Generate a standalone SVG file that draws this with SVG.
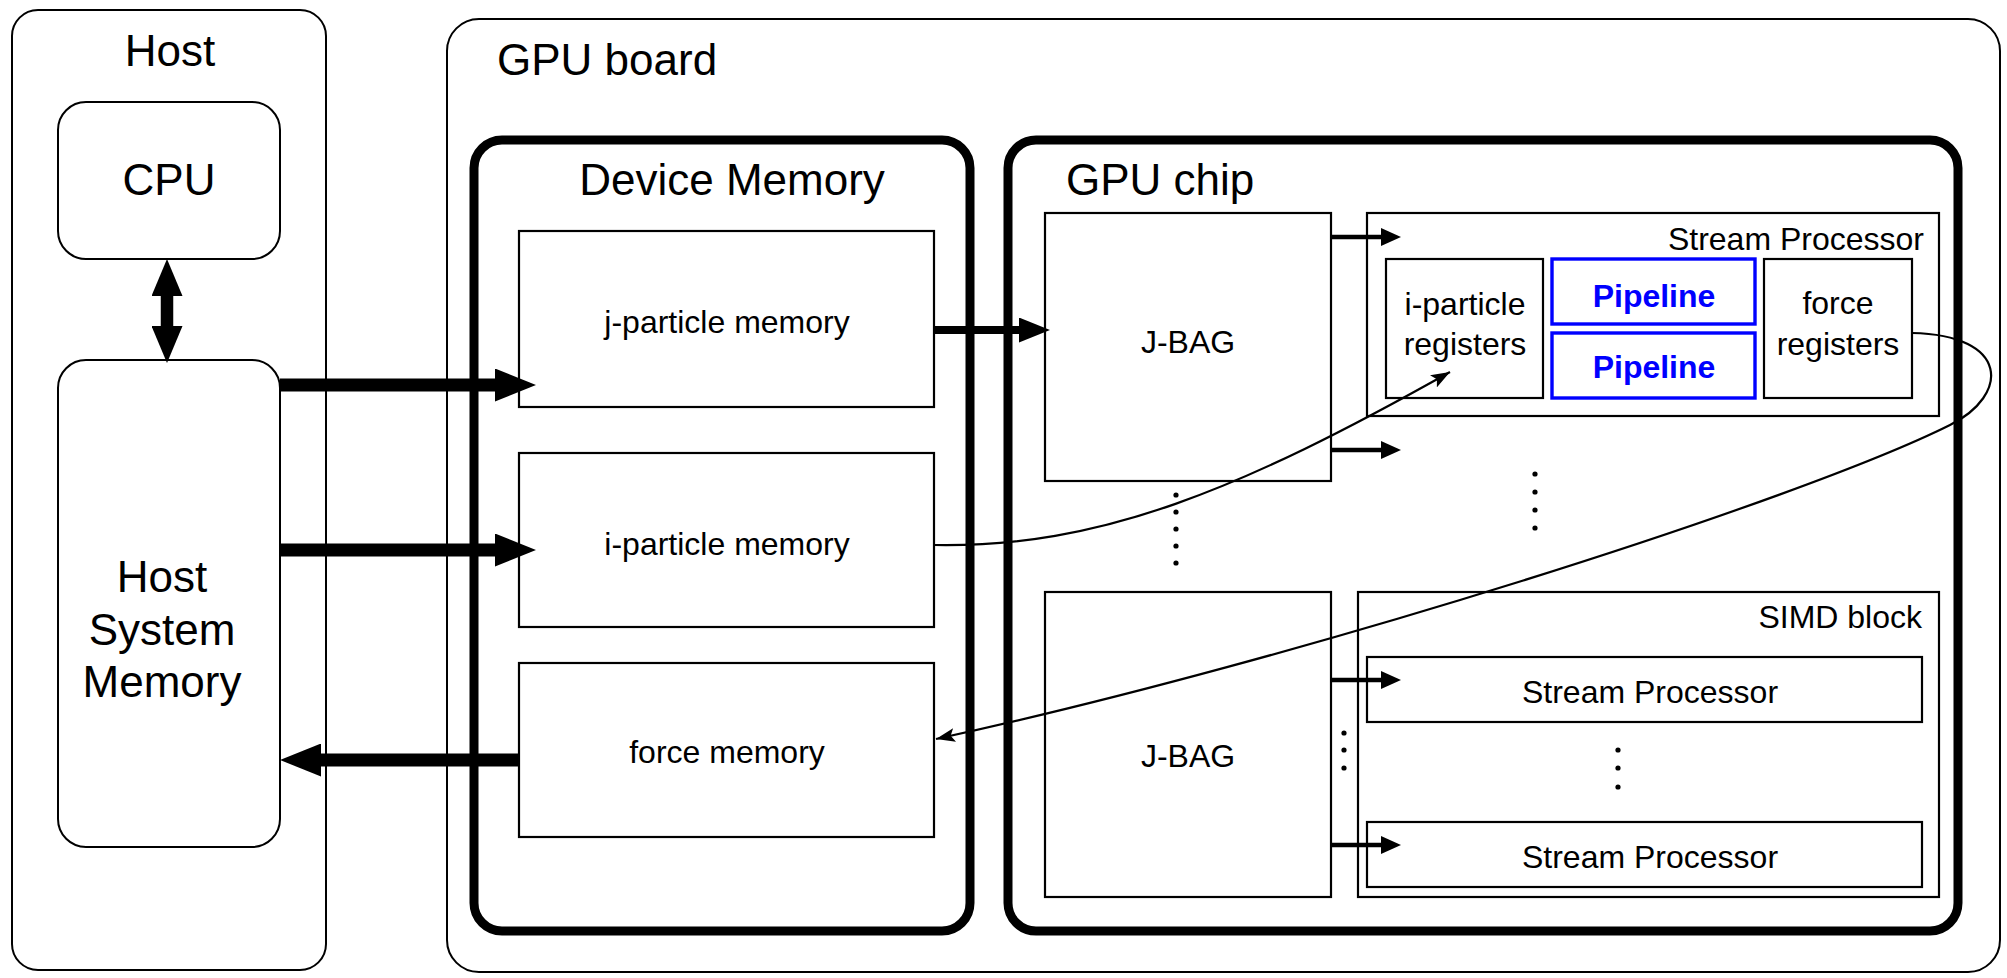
<svg xmlns="http://www.w3.org/2000/svg" width="2007" height="978" viewBox="0 0 2007 978">
  <defs>
    <style>
      text { font-family: "Liberation Sans", Arial, Helvetica, sans-serif; fill: #000; }
      .title { font-size: 44px; }
      .lbl { font-size: 32px; }
      .mid { text-anchor: middle; }
      .end { text-anchor: end; }
      .frame { fill: none; stroke: #000; stroke-width: 2; }
      .heavy { fill: none; stroke: #000; stroke-width: 9; }
      .box { fill: none; stroke: #000; stroke-width: 2.2; }
      .pipe { fill: none; stroke: #0000ff; stroke-width: 3.4; }
      .pipetxt { font-size: 32px; font-weight: bold; fill: #0000ff; }
      .dot { fill: #000; }
      .bus { fill: none; stroke: #000; }
      .wire { fill: none; stroke: #000; stroke-width: 2.2; }
    </style>
    <marker id="headBig" markerUnits="userSpaceOnUse" markerWidth="41" markerHeight="33" refX="0" refY="16.5" orient="auto">
      <path d="M0,0 L41,16.5 L0,33 z" fill="#000"/>
    </marker>
    <marker id="headCpu" markerUnits="userSpaceOnUse" markerWidth="37" markerHeight="31" refX="0" refY="15.5" orient="auto-start-reverse">
      <path d="M0,0 L37,15.5 L0,31 z" fill="#000"/>
    </marker>
    <marker id="headMid" markerUnits="userSpaceOnUse" markerWidth="31" markerHeight="25" refX="0" refY="12.5" orient="auto">
      <path d="M0,0 L31,12.5 L0,25 z" fill="#000"/>
    </marker>
    <marker id="headSmall" markerUnits="userSpaceOnUse" markerWidth="20" markerHeight="18" refX="0" refY="9" orient="auto">
      <path d="M0,0 L20,9 L0,18 z" fill="#000"/>
    </marker>
    <marker id="headThin" markerUnits="userSpaceOnUse" markerWidth="20" markerHeight="14" refX="19" refY="7" orient="auto">
      <path d="M0,0 L19,7 L0,14 L4,7 z" fill="#000"/>
    </marker>
  </defs>

  <!-- Host side -->
  <g id="host">
    <rect class="frame" x="12" y="10" width="314" height="960" rx="26"/>
    <text class="title mid" x="170" y="66">Host</text>
  </g>
  <g id="cpu">
    <rect class="frame" x="58" y="102" width="222" height="157" rx="28"/>
    <text class="title mid" x="169" y="195">CPU</text>
  </g>
  <g id="host-memory">
    <rect class="frame" x="58" y="360" width="222" height="487" rx="28"/>
    <text class="title mid" x="162" y="592">Host</text>
    <text class="title mid" x="162" y="645">System</text>
    <text class="title mid" x="162" y="697">Memory</text>
  </g>

  <!-- GPU board -->
  <g id="gpu-board">
    <rect class="frame" x="447" y="19" width="1553" height="953" rx="32"/>
    <text class="title" x="497" y="75">GPU board</text>
  </g>

  <g id="device-memory">
    <rect class="heavy" x="474" y="140" width="496" height="791" rx="28"/>
    <text class="title mid" x="732" y="195">Device Memory</text>
  </g>
  <g id="j-particle-memory">
    <rect class="box" x="519" y="231" width="415" height="176"/>
    <text class="lbl mid" x="727" y="333">j-particle memory</text>
  </g>
  <g id="i-particle-memory">
    <rect class="box" x="519" y="453" width="415" height="174"/>
    <text class="lbl mid" x="727" y="555">i-particle memory</text>
  </g>
  <g id="force-memory">
    <rect class="box" x="519" y="663" width="415" height="174"/>
    <text class="lbl mid" x="727" y="763">force memory</text>
  </g>

  <g id="gpu-chip">
    <rect class="heavy" x="1008" y="140" width="950" height="791" rx="28"/>
    <text class="title" x="1066" y="195">GPU chip</text>
  </g>
  <g id="jbag-1">
    <rect class="box" x="1045" y="213" width="286" height="268"/>
    <text class="lbl mid" x="1188" y="353">J-BAG</text>
  </g>
  <g id="jbag-n">
    <rect class="box" x="1045" y="592" width="286" height="305"/>
    <text class="lbl mid" x="1188" y="767">J-BAG</text>
  </g>

  <g id="stream-processor">
    <rect class="box" x="1367" y="213" width="572" height="203"/>
    <text class="lbl end" x="1924" y="250">Stream Processor</text>
  </g>
  <g id="i-registers">
    <rect class="box" x="1386" y="259" width="157" height="139"/>
    <text class="lbl mid" x="1465" y="315">i-particle</text>
    <text class="lbl mid" x="1465" y="355">registers</text>
  </g>
  <g id="pipeline-1">
    <rect class="pipe" x="1552" y="259" width="203" height="65"/>
    <text class="pipetxt mid" x="1654" y="307">Pipeline</text>
  </g>
  <g id="pipeline-2">
    <rect class="pipe" x="1552" y="333" width="203" height="65"/>
    <text class="pipetxt mid" x="1654" y="378">Pipeline</text>
  </g>
  <g id="force-registers">
    <rect class="box" x="1764" y="259" width="148" height="139"/>
    <text class="lbl mid" x="1838" y="314">force</text>
    <text class="lbl mid" x="1838" y="355">registers</text>
  </g>

  <g id="simd-block">
    <rect class="box" x="1358" y="592" width="581" height="305"/>
    <text class="lbl end" x="1922" y="628">SIMD block</text>
  </g>
  <g id="simd-sp-1">
    <rect class="box" x="1367" y="657" width="555" height="65"/>
    <text class="lbl mid" x="1650" y="703">Stream Processor</text>
  </g>
  <g id="simd-sp-n">
    <rect class="box" x="1367" y="822" width="555" height="65"/>
    <text class="lbl mid" x="1650" y="868">Stream Processor</text>
  </g>

  <!-- ellipsis dots -->
  <g id="ellipses">
    <circle class="dot" cx="1176" cy="495" r="2.6"/>
    <circle class="dot" cx="1176" cy="512" r="2.6"/>
    <circle class="dot" cx="1176" cy="529" r="2.6"/>
    <circle class="dot" cx="1176" cy="546" r="2.6"/>
    <circle class="dot" cx="1176" cy="563" r="2.6"/>
    <circle class="dot" cx="1535" cy="474" r="2.6"/>
    <circle class="dot" cx="1535" cy="492" r="2.6"/>
    <circle class="dot" cx="1535" cy="510" r="2.6"/>
    <circle class="dot" cx="1535" cy="528" r="2.6"/>
    <circle class="dot" cx="1344" cy="733" r="2.6"/>
    <circle class="dot" cx="1344" cy="750" r="2.6"/>
    <circle class="dot" cx="1344" cy="768" r="2.6"/>
    <circle class="dot" cx="1618" cy="750" r="2.6"/>
    <circle class="dot" cx="1618" cy="768" r="2.6"/>
    <circle class="dot" cx="1618" cy="787" r="2.6"/>
  </g>

  <!-- connectors -->
  <g id="connectors">
    <path class="bus" stroke-width="12.5" d="M167,296 V326" marker-start="url(#headCpu)" marker-end="url(#headCpu)"/>
    <path class="bus" stroke-width="13" d="M280,385 H495" marker-end="url(#headBig)"/>
    <path class="bus" stroke-width="13" d="M280,550 H495" marker-end="url(#headBig)"/>
    <path class="bus" stroke-width="13" d="M519,760 H321" marker-end="url(#headBig)"/>
    <path class="bus" stroke-width="8" d="M934,330 H1019" marker-end="url(#headMid)"/>
    <path class="bus" stroke-width="4.5" d="M1331,237 H1381" marker-end="url(#headSmall)"/>
    <path class="bus" stroke-width="4.5" d="M1331,450 H1381" marker-end="url(#headSmall)"/>
    <path class="bus" stroke-width="4.5" d="M1331,680 H1381" marker-end="url(#headSmall)"/>
    <path class="bus" stroke-width="4.5" d="M1331,845 H1381" marker-end="url(#headSmall)"/>
    <path class="wire" d="M934,545 C1100,548 1240,490 1450,372" marker-end="url(#headThin)"/>
    <path class="wire" d="M1912,333 C2010,335 2010,395 1950,425 C1800,500 1300,660 936,739" marker-end="url(#headThin)"/>
  </g>
</svg>
